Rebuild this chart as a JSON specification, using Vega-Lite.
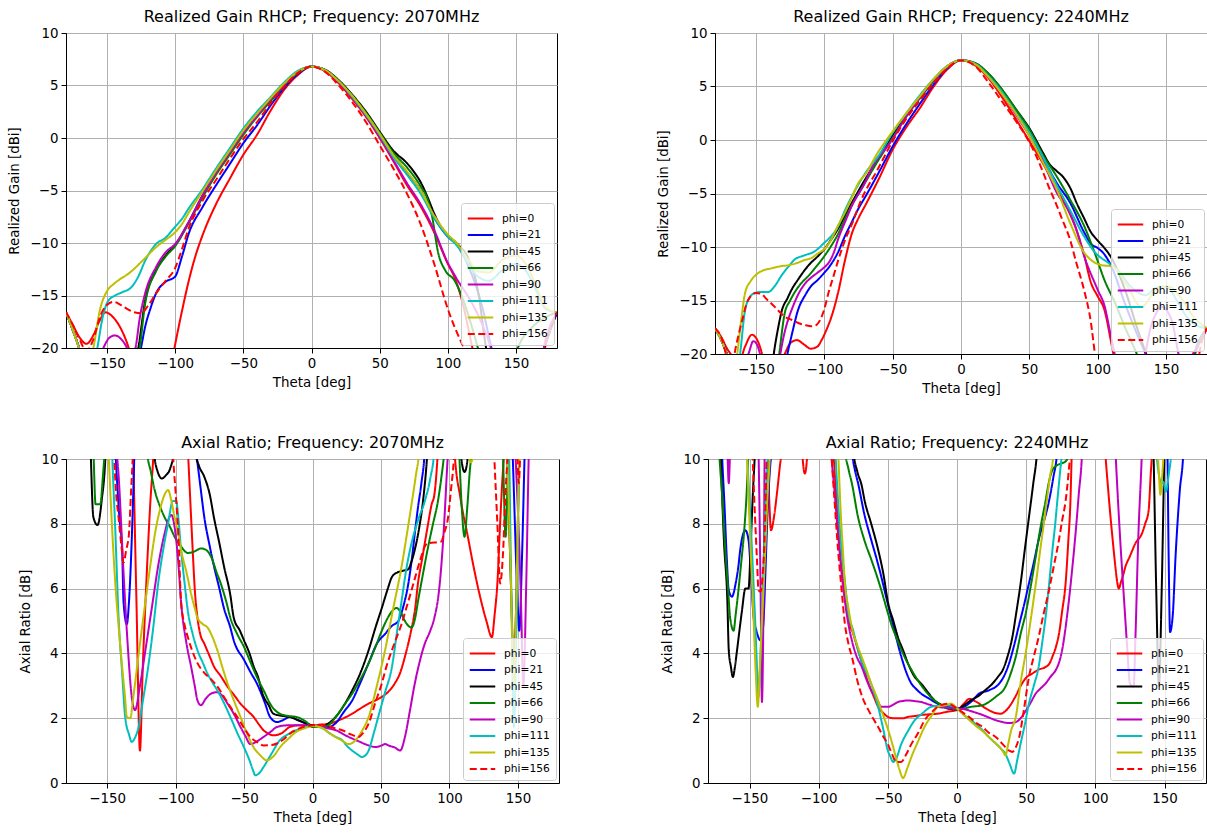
{
"$schema": "https://vega.github.io/schema/vega-lite/v6.json",
"padding": {"left": 7, "top": 8, "right": 0, "bottom": 0},
"columns": 1,
"align": "none",
"spacing": 38,
"datasets": {
"tl": [
{"p":0,"t":-180,"v":-16.6},{"p":0,"t":-175,"v":-17.8},{"p":0,"t":-170,"v":-19},{"p":0,"t":-165,"v":-19.6},{"p":0,"t":-160,"v":-18.8},{"p":0,"t":-155,"v":-17.3},{"p":0,"t":-151,"v":-16.6},{"p":0,"t":-146,"v":-17},{"p":0,"t":-140,"v":-18.1},{"p":0,"t":-134,"v":-20},{"p":0,"t":-128,"v":-23},{"p":0,"t":-115,"v":-26},{"p":0,"t":-105,"v":-23},{"p":0,"t":-100.5,"v":-20},{"p":0,"t":-95,"v":-16.5},{"p":0,"t":-90,"v":-13.6},{"p":0,"t":-85,"v":-11.2},{"p":0,"t":-80,"v":-9.3},{"p":0,"t":-70,"v":-6.3},{"p":0,"t":-60,"v":-3.9},{"p":0,"t":-50,"v":-1.6},{"p":0,"t":-40,"v":0.3},{"p":0,"t":-30,"v":2.6},{"p":0,"t":-20,"v":4.6},{"p":0,"t":-10,"v":6},{"p":0,"t":0,"v":6.8},{"p":0,"t":10,"v":6.35},{"p":0,"t":20,"v":5.2},{"p":0,"t":30,"v":3.7},{"p":0,"t":40,"v":2},{"p":0,"t":50,"v":0},{"p":0,"t":60,"v":-2.2},{"p":0,"t":70,"v":-4.5},{"p":0,"t":80,"v":-6.5},{"p":0,"t":90,"v":-9},{"p":0,"t":100,"v":-12},{"p":0,"t":105,"v":-13.3},{"p":0,"t":110,"v":-15.3},{"p":0,"t":118,"v":-20},{"p":0,"t":125,"v":-24},{"p":0,"t":160,"v":-24},{"p":0,"t":170,"v":-20.5},{"p":0,"t":175,"v":-18.2},{"p":0,"t":180,"v":-16.6},
{"p":21,"t":-180,"v":-16.6},{"p":21,"t":-175,"v":-18.3},{"p":21,"t":-170,"v":-20.2},{"p":21,"t":-165,"v":-23},{"p":21,"t":-140,"v":-25},{"p":21,"t":-128,"v":-22},{"p":21,"t":-125,"v":-20},{"p":21,"t":-122,"v":-18},{"p":21,"t":-118,"v":-16.2},{"p":21,"t":-114,"v":-14.8},{"p":21,"t":-107,"v":-13.7},{"p":21,"t":-100,"v":-13.2},{"p":21,"t":-95,"v":-11.3},{"p":21,"t":-90,"v":-9.1},{"p":21,"t":-80,"v":-6.6},{"p":21,"t":-70,"v":-4.5},{"p":21,"t":-60,"v":-2.5},{"p":21,"t":-50,"v":-0.5},{"p":21,"t":-40,"v":1.2},{"p":21,"t":-30,"v":3.1},{"p":21,"t":-20,"v":4.8},{"p":21,"t":-10,"v":6.1},{"p":21,"t":0,"v":6.8},{"p":21,"t":10,"v":6.45},{"p":21,"t":20,"v":5.4},{"p":21,"t":30,"v":4},{"p":21,"t":40,"v":2.3},{"p":21,"t":50,"v":0.4},{"p":21,"t":60,"v":-1.6},{"p":21,"t":70,"v":-3.3},{"p":21,"t":80,"v":-5},{"p":21,"t":90,"v":-7.6},{"p":21,"t":100,"v":-9.4},{"p":21,"t":107,"v":-10.2},{"p":21,"t":115,"v":-12.2},{"p":21,"t":125,"v":-16},{"p":21,"t":133,"v":-20.5},{"p":21,"t":145,"v":-24},{"p":21,"t":160,"v":-24},{"p":21,"t":168,"v":-21},{"p":21,"t":175,"v":-18.3},{"p":21,"t":180,"v":-16.6},
{"p":45,"t":-180,"v":-16.6},{"p":45,"t":-175,"v":-18.3},{"p":45,"t":-170,"v":-20.2},{"p":45,"t":-165,"v":-23},{"p":45,"t":-140,"v":-25},{"p":45,"t":-131,"v":-22},{"p":45,"t":-127,"v":-20},{"p":45,"t":-122,"v":-15.5},{"p":45,"t":-114,"v":-12.6},{"p":45,"t":-107,"v":-11.2},{"p":45,"t":-100,"v":-10.2},{"p":45,"t":-90,"v":-8},{"p":45,"t":-80,"v":-5.5},{"p":45,"t":-70,"v":-3.3},{"p":45,"t":-60,"v":-1.4},{"p":45,"t":-50,"v":0.5},{"p":45,"t":-40,"v":2.1},{"p":45,"t":-30,"v":3.6},{"p":45,"t":-20,"v":5.1},{"p":45,"t":-10,"v":6.3},{"p":45,"t":0,"v":6.8},{"p":45,"t":10,"v":6.5},{"p":45,"t":20,"v":5.5},{"p":45,"t":30,"v":4.1},{"p":45,"t":40,"v":2.5},{"p":45,"t":50,"v":0.6},{"p":45,"t":60,"v":-1.2},{"p":45,"t":70,"v":-2.4},{"p":45,"t":75,"v":-3.2},{"p":45,"t":80,"v":-4.2},{"p":45,"t":85,"v":-5.6},{"p":45,"t":90,"v":-7.2},{"p":45,"t":95,"v":-8.5},{"p":45,"t":100,"v":-9.3},{"p":45,"t":107,"v":-10.1},{"p":45,"t":115,"v":-11.5},{"p":45,"t":122,"v":-14.5},{"p":45,"t":128,"v":-20},{"p":45,"t":135,"v":-24},{"p":45,"t":160,"v":-24},{"p":45,"t":168,"v":-21},{"p":45,"t":175,"v":-18.3},{"p":45,"t":180,"v":-16.6},
{"p":66,"t":-180,"v":-16.6},{"p":66,"t":-175,"v":-18.3},{"p":66,"t":-170,"v":-20.2},{"p":66,"t":-165,"v":-23},{"p":66,"t":-140,"v":-25},{"p":66,"t":-130,"v":-22},{"p":66,"t":-126,"v":-20},{"p":66,"t":-122,"v":-15.8},{"p":66,"t":-114,"v":-12.7},{"p":66,"t":-107,"v":-11.3},{"p":66,"t":-100,"v":-10.3},{"p":66,"t":-90,"v":-8.1},{"p":66,"t":-80,"v":-5.7},{"p":66,"t":-70,"v":-3.5},{"p":66,"t":-60,"v":-1.6},{"p":66,"t":-50,"v":0.3},{"p":66,"t":-40,"v":2},{"p":66,"t":-30,"v":3.5},{"p":66,"t":-20,"v":5},{"p":66,"t":-10,"v":6.2},{"p":66,"t":0,"v":6.8},{"p":66,"t":10,"v":6.45},{"p":66,"t":20,"v":5.4},{"p":66,"t":30,"v":4},{"p":66,"t":40,"v":2.4},{"p":66,"t":50,"v":0.5},{"p":66,"t":60,"v":-1.4},{"p":66,"t":70,"v":-2.8},{"p":66,"t":80,"v":-4.6},{"p":66,"t":85,"v":-5.8},{"p":66,"t":88,"v":-7.2},{"p":66,"t":93,"v":-11},{"p":66,"t":98,"v":-12.6},{"p":66,"t":105,"v":-13.6},{"p":66,"t":110,"v":-15},{"p":66,"t":122,"v":-20},{"p":66,"t":130,"v":-24},{"p":66,"t":145,"v":-23},{"p":66,"t":150,"v":-20.5},{"p":66,"t":162,"v":-18},{"p":66,"t":170,"v":-17.2},{"p":66,"t":180,"v":-16.6},
{"p":90,"t":-180,"v":-16.6},{"p":90,"t":-175,"v":-18.3},{"p":90,"t":-170,"v":-20.2},{"p":90,"t":-165,"v":-23},{"p":90,"t":-157,"v":-21.5},{"p":90,"t":-152.6,"v":-20},{"p":90,"t":-148,"v":-19},{"p":90,"t":-144,"v":-18.8},{"p":90,"t":-140,"v":-19.1},{"p":90,"t":-136,"v":-19.8},{"p":90,"t":-132,"v":-21},{"p":90,"t":-129,"v":-20},{"p":90,"t":-126,"v":-17.2},{"p":90,"t":-122,"v":-14.8},{"p":90,"t":-114,"v":-12.3},{"p":90,"t":-107,"v":-10.9},{"p":90,"t":-100,"v":-10.1},{"p":90,"t":-90,"v":-8},{"p":90,"t":-80,"v":-5.5},{"p":90,"t":-70,"v":-3.3},{"p":90,"t":-60,"v":-1.4},{"p":90,"t":-50,"v":0.5},{"p":90,"t":-40,"v":2.1},{"p":90,"t":-30,"v":3.7},{"p":90,"t":-20,"v":5.1},{"p":90,"t":-10,"v":6.3},{"p":90,"t":0,"v":6.8},{"p":90,"t":10,"v":6.4},{"p":90,"t":20,"v":5.3},{"p":90,"t":30,"v":3.8},{"p":90,"t":40,"v":2.1},{"p":90,"t":50,"v":0.1},{"p":90,"t":60,"v":-2.1},{"p":90,"t":70,"v":-4.3},{"p":90,"t":80,"v":-6.3},{"p":90,"t":90,"v":-8.8},{"p":90,"t":100,"v":-11.9},{"p":90,"t":106,"v":-13.3},{"p":90,"t":118,"v":-15.8},{"p":90,"t":126,"v":-18},{"p":90,"t":133,"v":-20.5},{"p":90,"t":140,"v":-23},{"p":90,"t":165,"v":-23},{"p":90,"t":172,"v":-19},{"p":90,"t":180,"v":-16.6},
{"p":111,"t":-180,"v":-16.6},{"p":111,"t":-175,"v":-18.3},{"p":111,"t":-170,"v":-20.2},{"p":111,"t":-165,"v":-23},{"p":111,"t":-160,"v":-22},{"p":111,"t":-157,"v":-20},{"p":111,"t":-153,"v":-17},{"p":111,"t":-149,"v":-15.5},{"p":111,"t":-144,"v":-15},{"p":111,"t":-139,"v":-14.7},{"p":111,"t":-132,"v":-14.2},{"p":111,"t":-127,"v":-13.2},{"p":111,"t":-122,"v":-11.7},{"p":111,"t":-114,"v":-10.1},{"p":111,"t":-107,"v":-9.5},{"p":111,"t":-101,"v":-8.6},{"p":111,"t":-95,"v":-7.7},{"p":111,"t":-90,"v":-6.7},{"p":111,"t":-80,"v":-4.9},{"p":111,"t":-70,"v":-2.9},{"p":111,"t":-60,"v":-1},{"p":111,"t":-50,"v":0.9},{"p":111,"t":-40,"v":2.5},{"p":111,"t":-30,"v":3.9},{"p":111,"t":-20,"v":5.3},{"p":111,"t":-10,"v":6.4},{"p":111,"t":0,"v":6.8},{"p":111,"t":10,"v":6.45},{"p":111,"t":20,"v":5.4},{"p":111,"t":30,"v":3.9},{"p":111,"t":40,"v":2.2},{"p":111,"t":50,"v":0.3},{"p":111,"t":60,"v":-1.8},{"p":111,"t":70,"v":-3.5},{"p":111,"t":80,"v":-5.3},{"p":111,"t":90,"v":-7.6},{"p":111,"t":100,"v":-9.4},{"p":111,"t":107,"v":-10.3},{"p":111,"t":115,"v":-12},{"p":111,"t":122,"v":-13.2},{"p":111,"t":130,"v":-13.6},{"p":111,"t":140,"v":-12.6},{"p":111,"t":150,"v":-12},{"p":111,"t":158,"v":-12.8},{"p":111,"t":165,"v":-14.6},{"p":111,"t":172,"v":-16.3},{"p":111,"t":180,"v":-16.6},
{"p":135,"t":-180,"v":-16.6},{"p":135,"t":-175,"v":-18.3},{"p":135,"t":-170,"v":-20.2},{"p":135,"t":-165,"v":-22},{"p":135,"t":-160,"v":-20},{"p":135,"t":-155,"v":-16.3},{"p":135,"t":-150,"v":-14.6},{"p":135,"t":-145,"v":-13.9},{"p":135,"t":-141,"v":-13.5},{"p":135,"t":-134,"v":-12.9},{"p":135,"t":-124,"v":-11.7},{"p":135,"t":-114,"v":-10.4},{"p":135,"t":-107,"v":-9.7},{"p":135,"t":-101,"v":-9.1},{"p":135,"t":-95,"v":-8.2},{"p":135,"t":-90,"v":-7.1},{"p":135,"t":-80,"v":-5.1},{"p":135,"t":-70,"v":-3.1},{"p":135,"t":-60,"v":-1.2},{"p":135,"t":-50,"v":0.7},{"p":135,"t":-40,"v":2.3},{"p":135,"t":-30,"v":3.8},{"p":135,"t":-20,"v":5.2},{"p":135,"t":-10,"v":6.3},{"p":135,"t":0,"v":6.8},{"p":135,"t":10,"v":6.45},{"p":135,"t":20,"v":5.4},{"p":135,"t":30,"v":4},{"p":135,"t":40,"v":2.3},{"p":135,"t":50,"v":0.4},{"p":135,"t":60,"v":-1.6},{"p":135,"t":70,"v":-3.2},{"p":135,"t":80,"v":-5},{"p":135,"t":90,"v":-7.4},{"p":135,"t":100,"v":-9.2},{"p":135,"t":107,"v":-10.1},{"p":135,"t":115,"v":-11.6},{"p":135,"t":122,"v":-12.7},{"p":135,"t":130,"v":-12.8},{"p":135,"t":140,"v":-11.6},{"p":135,"t":150,"v":-11.2},{"p":135,"t":158,"v":-12.2},{"p":135,"t":165,"v":-14.2},{"p":135,"t":172,"v":-16.2},{"p":135,"t":180,"v":-16.6},
{"p":156,"t":-180,"v":-16.6},{"p":156,"t":-175,"v":-17.8},{"p":156,"t":-170,"v":-19.2},{"p":156,"t":-165,"v":-20.3},{"p":156,"t":-160,"v":-19.2},{"p":156,"t":-155,"v":-17},{"p":156,"t":-150,"v":-15.9},{"p":156,"t":-145,"v":-15.6},{"p":156,"t":-140,"v":-15.9},{"p":156,"t":-130,"v":-16.6},{"p":156,"t":-125,"v":-16.7},{"p":156,"t":-120,"v":-16},{"p":156,"t":-114,"v":-14.8},{"p":156,"t":-107,"v":-13.6},{"p":156,"t":-100,"v":-12.4},{"p":156,"t":-95,"v":-10.6},{"p":156,"t":-90,"v":-8.6},{"p":156,"t":-80,"v":-6},{"p":156,"t":-70,"v":-4},{"p":156,"t":-60,"v":-2},{"p":156,"t":-50,"v":-0.1},{"p":156,"t":-40,"v":1.5},{"p":156,"t":-30,"v":3.3},{"p":156,"t":-20,"v":4.9},{"p":156,"t":-10,"v":6.2},{"p":156,"t":0,"v":6.8},{"p":156,"t":10,"v":6.3},{"p":156,"t":20,"v":5},{"p":156,"t":30,"v":3.4},{"p":156,"t":40,"v":1.5},{"p":156,"t":50,"v":-0.7},{"p":156,"t":60,"v":-2.9},{"p":156,"t":70,"v":-5.3},{"p":156,"t":80,"v":-8.2},{"p":156,"t":90,"v":-12},{"p":156,"t":100,"v":-16.3},{"p":156,"t":110,"v":-19.5},{"p":156,"t":116,"v":-21},{"p":156,"t":125,"v":-24},{"p":156,"t":165,"v":-24},{"p":156,"t":172,"v":-19.5},{"p":156,"t":180,"v":-16.6}
],
"tr": [
{"p":0,"t":-180,"v":-17.6},{"p":0,"t":-175,"v":-18.5},{"p":0,"t":-172,"v":-19.3},{"p":0,"t":-168,"v":-20.1},{"p":0,"t":-163,"v":-21},{"p":0,"t":-158,"v":-19.3},{"p":0,"t":-153,"v":-18.2},{"p":0,"t":-148,"v":-19},{"p":0,"t":-145,"v":-20.2},{"p":0,"t":-140,"v":-22},{"p":0,"t":-133,"v":-21},{"p":0,"t":-129,"v":-20},{"p":0,"t":-125,"v":-19},{"p":0,"t":-120,"v":-18.7},{"p":0,"t":-115,"v":-19.1},{"p":0,"t":-110,"v":-19.5},{"p":0,"t":-105,"v":-19.3},{"p":0,"t":-102,"v":-18.7},{"p":0,"t":-98,"v":-17.6},{"p":0,"t":-95,"v":-16.6},{"p":0,"t":-90,"v":-14.3},{"p":0,"t":-85,"v":-11.3},{"p":0,"t":-80,"v":-8.8},{"p":0,"t":-75,"v":-7.3},{"p":0,"t":-70,"v":-6.1},{"p":0,"t":-60,"v":-3.6},{"p":0,"t":-50,"v":-0.9},{"p":0,"t":-40,"v":1.2},{"p":0,"t":-30,"v":3},{"p":0,"t":-20,"v":5},{"p":0,"t":-10,"v":6.6},{"p":0,"t":0,"v":7.45},{"p":0,"t":10,"v":7},{"p":0,"t":20,"v":5.8},{"p":0,"t":30,"v":4},{"p":0,"t":40,"v":2},{"p":0,"t":50,"v":-0.1},{"p":0,"t":60,"v":-2.2},{"p":0,"t":70,"v":-4.6},{"p":0,"t":80,"v":-7},{"p":0,"t":85,"v":-8.6},{"p":0,"t":90,"v":-10.7},{"p":0,"t":95,"v":-13.3},{"p":0,"t":100,"v":-14.6},{"p":0,"t":105,"v":-15.9},{"p":0,"t":110,"v":-19},{"p":0,"t":113,"v":-21},{"p":0,"t":120,"v":-24},{"p":0,"t":165,"v":-23},{"p":0,"t":170,"v":-20.5},{"p":0,"t":175,"v":-18.8},{"p":0,"t":180,"v":-17.6},
{"p":21,"t":-180,"v":-17.6},{"p":21,"t":-175,"v":-18.8},{"p":21,"t":-170,"v":-20.5},{"p":21,"t":-165,"v":-23},{"p":21,"t":-140,"v":-25},{"p":21,"t":-130,"v":-22},{"p":21,"t":-127,"v":-20},{"p":21,"t":-124,"v":-18.3},{"p":21,"t":-119,"v":-15.8},{"p":21,"t":-114,"v":-14.5},{"p":21,"t":-110,"v":-13.7},{"p":21,"t":-105,"v":-13.1},{"p":21,"t":-100,"v":-12.4},{"p":21,"t":-95,"v":-11.6},{"p":21,"t":-90,"v":-10.5},{"p":21,"t":-85,"v":-9},{"p":21,"t":-80,"v":-7.7},{"p":21,"t":-75,"v":-6.4},{"p":21,"t":-70,"v":-5.3},{"p":21,"t":-60,"v":-3},{"p":21,"t":-50,"v":-0.6},{"p":21,"t":-40,"v":1.5},{"p":21,"t":-30,"v":3.4},{"p":21,"t":-20,"v":5.2},{"p":21,"t":-10,"v":6.7},{"p":21,"t":0,"v":7.45},{"p":21,"t":10,"v":7.15},{"p":21,"t":20,"v":6},{"p":21,"t":30,"v":4.5},{"p":21,"t":40,"v":2.6},{"p":21,"t":50,"v":0.6},{"p":21,"t":60,"v":-1.7},{"p":21,"t":70,"v":-4},{"p":21,"t":80,"v":-5.9},{"p":21,"t":90,"v":-8.6},{"p":21,"t":95,"v":-9.7},{"p":21,"t":100,"v":-10.1},{"p":21,"t":105,"v":-10.7},{"p":21,"t":110,"v":-11.8},{"p":21,"t":120,"v":-15.3},{"p":21,"t":130,"v":-18.5},{"p":21,"t":137,"v":-20.5},{"p":21,"t":145,"v":-23},{"p":21,"t":165,"v":-23},{"p":21,"t":172,"v":-19.5},{"p":21,"t":180,"v":-17.6},
{"p":45,"t":-180,"v":-17.6},{"p":45,"t":-175,"v":-18.8},{"p":45,"t":-170,"v":-20.5},{"p":45,"t":-165,"v":-23},{"p":45,"t":-145,"v":-25},{"p":45,"t":-139,"v":-22},{"p":45,"t":-137,"v":-20},{"p":45,"t":-134,"v":-17.7},{"p":45,"t":-131,"v":-15.9},{"p":45,"t":-127,"v":-14.8},{"p":45,"t":-124,"v":-14},{"p":45,"t":-119,"v":-13},{"p":45,"t":-114,"v":-12.1},{"p":45,"t":-110,"v":-11.5},{"p":45,"t":-105,"v":-10.9},{"p":45,"t":-100,"v":-10.2},{"p":45,"t":-95,"v":-9.3},{"p":45,"t":-90,"v":-8.3},{"p":45,"t":-85,"v":-7.1},{"p":45,"t":-80,"v":-5.9},{"p":45,"t":-73,"v":-4.3},{"p":45,"t":-61,"v":-1.8},{"p":45,"t":-50,"v":0.4},{"p":45,"t":-40,"v":2.3},{"p":45,"t":-30,"v":4},{"p":45,"t":-20,"v":5.6},{"p":45,"t":-10,"v":6.9},{"p":45,"t":0,"v":7.45},{"p":45,"t":10,"v":7.2},{"p":45,"t":20,"v":6.2},{"p":45,"t":30,"v":4.7},{"p":45,"t":40,"v":2.9},{"p":45,"t":50,"v":1.1},{"p":45,"t":60,"v":-1.2},{"p":45,"t":65,"v":-2.3},{"p":45,"t":70,"v":-2.9},{"p":45,"t":75,"v":-3.5},{"p":45,"t":80,"v":-4.5},{"p":45,"t":85,"v":-6},{"p":45,"t":90,"v":-7.3},{"p":45,"t":95,"v":-8.6},{"p":45,"t":100,"v":-9.4},{"p":45,"t":105,"v":-10.1},{"p":45,"t":110,"v":-11},{"p":45,"t":120,"v":-14},{"p":45,"t":130,"v":-18},{"p":45,"t":137,"v":-20.5},{"p":45,"t":150,"v":-24},{"p":45,"t":165,"v":-23},{"p":45,"t":172,"v":-19.5},{"p":45,"t":180,"v":-17.6},
{"p":66,"t":-180,"v":-17.6},{"p":66,"t":-175,"v":-18.8},{"p":66,"t":-170,"v":-20.5},{"p":66,"t":-165,"v":-23},{"p":66,"t":-145,"v":-25},{"p":66,"t":-135,"v":-22},{"p":66,"t":-133,"v":-20},{"p":66,"t":-129,"v":-16.2},{"p":66,"t":-125,"v":-15},{"p":66,"t":-122,"v":-14.3},{"p":66,"t":-117,"v":-13.4},{"p":66,"t":-112,"v":-12.75},{"p":66,"t":-107,"v":-12},{"p":66,"t":-102,"v":-11.2},{"p":66,"t":-95,"v":-9.9},{"p":66,"t":-90,"v":-8.8},{"p":66,"t":-85,"v":-7.4},{"p":66,"t":-80,"v":-6.1},{"p":66,"t":-73,"v":-4.6},{"p":66,"t":-61,"v":-2},{"p":66,"t":-50,"v":0.2},{"p":66,"t":-40,"v":2.2},{"p":66,"t":-30,"v":3.9},{"p":66,"t":-20,"v":5.5},{"p":66,"t":-10,"v":6.8},{"p":66,"t":0,"v":7.45},{"p":66,"t":10,"v":7.2},{"p":66,"t":20,"v":6.2},{"p":66,"t":30,"v":4.7},{"p":66,"t":40,"v":2.9},{"p":66,"t":50,"v":1},{"p":66,"t":60,"v":-1.4},{"p":66,"t":70,"v":-3.4},{"p":66,"t":80,"v":-5.6},{"p":66,"t":90,"v":-8},{"p":66,"t":98,"v":-10.6},{"p":66,"t":105,"v":-13.1},{"p":66,"t":113,"v":-15.3},{"p":66,"t":120,"v":-17.5},{"p":66,"t":127,"v":-19.5},{"p":66,"t":132,"v":-21},{"p":66,"t":145,"v":-23},{"p":66,"t":165,"v":-23},{"p":66,"t":172,"v":-19.5},{"p":66,"t":180,"v":-17.6},
{"p":90,"t":-180,"v":-17.6},{"p":90,"t":-175,"v":-18.8},{"p":90,"t":-170,"v":-20.5},{"p":90,"t":-165,"v":-23},{"p":90,"t":-158,"v":-21},{"p":90,"t":-155,"v":-19.8},{"p":90,"t":-152,"v":-18.8},{"p":90,"t":-149,"v":-19.2},{"p":90,"t":-146,"v":-20.5},{"p":90,"t":-143,"v":-22},{"p":90,"t":-136,"v":-22},{"p":90,"t":-133,"v":-20.5},{"p":90,"t":-130,"v":-18.5},{"p":90,"t":-127,"v":-17},{"p":90,"t":-124,"v":-15.9},{"p":90,"t":-119,"v":-14.4},{"p":90,"t":-114,"v":-13.4},{"p":90,"t":-110,"v":-12.9},{"p":90,"t":-105,"v":-12.4},{"p":90,"t":-100,"v":-11.9},{"p":90,"t":-97,"v":-11.5},{"p":90,"t":-93,"v":-10.5},{"p":90,"t":-90,"v":-9.3},{"p":90,"t":-85,"v":-7.7},{"p":90,"t":-80,"v":-6.2},{"p":90,"t":-70,"v":-3.9},{"p":90,"t":-66,"v":-2.8},{"p":90,"t":-50,"v":0.1},{"p":90,"t":-40,"v":2.2},{"p":90,"t":-30,"v":4},{"p":90,"t":-20,"v":5.6},{"p":90,"t":-10,"v":6.8},{"p":90,"t":0,"v":7.45},{"p":90,"t":10,"v":7.1},{"p":90,"t":20,"v":5.9},{"p":90,"t":30,"v":4.3},{"p":90,"t":40,"v":2.4},{"p":90,"t":50,"v":0.4},{"p":90,"t":60,"v":-2},{"p":90,"t":70,"v":-4.9},{"p":90,"t":80,"v":-6.9},{"p":90,"t":84,"v":-8.2},{"p":90,"t":90,"v":-10.8},{"p":90,"t":100,"v":-14},{"p":90,"t":105,"v":-15.5},{"p":90,"t":110,"v":-18.5},{"p":90,"t":115,"v":-21},{"p":90,"t":130,"v":-22},{"p":90,"t":140,"v":-17},{"p":90,"t":147,"v":-15.6},{"p":90,"t":154,"v":-16.8},{"p":90,"t":162,"v":-21},{"p":90,"t":172,"v":-19.5},{"p":90,"t":180,"v":-17.6},
{"p":111,"t":-180,"v":-17.6},{"p":111,"t":-175,"v":-18.8},{"p":111,"t":-170,"v":-20.5},{"p":111,"t":-165,"v":-22},{"p":111,"t":-162,"v":-20.3},{"p":111,"t":-158,"v":-15.9},{"p":111,"t":-155,"v":-14.8},{"p":111,"t":-151,"v":-14.3},{"p":111,"t":-146,"v":-14.2},{"p":111,"t":-141,"v":-14.2},{"p":111,"t":-136,"v":-13.6},{"p":111,"t":-131,"v":-12.6},{"p":111,"t":-126,"v":-11.8},{"p":111,"t":-122,"v":-11.2},{"p":111,"t":-115,"v":-10.8},{"p":111,"t":-107,"v":-10.4},{"p":111,"t":-100,"v":-9.6},{"p":111,"t":-95,"v":-9},{"p":111,"t":-90,"v":-8.1},{"p":111,"t":-85,"v":-6.6},{"p":111,"t":-80,"v":-5.3},{"p":111,"t":-70,"v":-3.1},{"p":111,"t":-60,"v":-1.4},{"p":111,"t":-50,"v":0.7},{"p":111,"t":-40,"v":2.5},{"p":111,"t":-30,"v":4.2},{"p":111,"t":-20,"v":5.7},{"p":111,"t":-10,"v":6.9},{"p":111,"t":0,"v":7.45},{"p":111,"t":10,"v":7.15},{"p":111,"t":20,"v":6},{"p":111,"t":30,"v":4.5},{"p":111,"t":40,"v":2.6},{"p":111,"t":50,"v":0.7},{"p":111,"t":60,"v":-1.6},{"p":111,"t":70,"v":-4.2},{"p":111,"t":80,"v":-6.6},{"p":111,"t":90,"v":-9},{"p":111,"t":98,"v":-10.5},{"p":111,"t":108,"v":-11.5},{"p":111,"t":115,"v":-12.2},{"p":111,"t":125,"v":-13.8},{"p":111,"t":135,"v":-14.5},{"p":111,"t":143,"v":-13.8},{"p":111,"t":150,"v":-13.7},{"p":111,"t":158,"v":-15},{"p":111,"t":165,"v":-16.5},{"p":111,"t":172,"v":-17.3},{"p":111,"t":180,"v":-17.6},
{"p":135,"t":-180,"v":-17.6},{"p":135,"t":-175,"v":-18.8},{"p":135,"t":-170,"v":-20.5},{"p":135,"t":-166,"v":-21.5},{"p":135,"t":-164,"v":-20.2},{"p":135,"t":-161,"v":-17},{"p":135,"t":-158,"v":-14.3},{"p":135,"t":-154,"v":-13.2},{"p":135,"t":-150,"v":-12.6},{"p":135,"t":-145,"v":-12.2},{"p":135,"t":-139,"v":-12},{"p":135,"t":-132,"v":-11.8},{"p":135,"t":-126,"v":-11.7},{"p":135,"t":-120,"v":-11.5},{"p":135,"t":-114,"v":-11.2},{"p":135,"t":-109,"v":-11},{"p":135,"t":-104.6,"v":-10.6},{"p":135,"t":-100,"v":-10.2},{"p":135,"t":-95,"v":-9.3},{"p":135,"t":-90,"v":-8},{"p":135,"t":-85,"v":-6.8},{"p":135,"t":-80,"v":-5.4},{"p":135,"t":-75,"v":-4},{"p":135,"t":-70,"v":-3.2},{"p":135,"t":-61,"v":-1.2},{"p":135,"t":-50,"v":0.8},{"p":135,"t":-40,"v":2.5},{"p":135,"t":-30,"v":4.1},{"p":135,"t":-20,"v":5.7},{"p":135,"t":-10,"v":6.9},{"p":135,"t":0,"v":7.45},{"p":135,"t":10,"v":7.1},{"p":135,"t":20,"v":5.9},{"p":135,"t":30,"v":4.3},{"p":135,"t":40,"v":2.5},{"p":135,"t":50,"v":0.4},{"p":135,"t":60,"v":-2.1},{"p":135,"t":70,"v":-4.6},{"p":135,"t":80,"v":-7.8},{"p":135,"t":90,"v":-10.5},{"p":135,"t":95,"v":-11.2},{"p":135,"t":103,"v":-11.7},{"p":135,"t":110,"v":-11.8},{"p":135,"t":116,"v":-12.5},{"p":135,"t":122,"v":-13.7},{"p":135,"t":132,"v":-15.6},{"p":135,"t":137,"v":-15},{"p":135,"t":142,"v":-14},{"p":135,"t":152,"v":-13.7},{"p":135,"t":160,"v":-14.6},{"p":135,"t":170,"v":-16.5},{"p":135,"t":180,"v":-17.6},
{"p":156,"t":-180,"v":-17.6},{"p":156,"t":-175,"v":-18.6},{"p":156,"t":-172,"v":-20},{"p":156,"t":-168,"v":-21.5},{"p":156,"t":-165,"v":-19.5},{"p":156,"t":-160,"v":-16.8},{"p":156,"t":-156,"v":-15},{"p":156,"t":-150,"v":-14.3},{"p":156,"t":-146,"v":-14.4},{"p":156,"t":-142,"v":-14.9},{"p":156,"t":-139,"v":-15.25},{"p":156,"t":-134,"v":-15.9},{"p":156,"t":-129,"v":-16.5},{"p":156,"t":-124,"v":-16.8},{"p":156,"t":-119,"v":-17.1},{"p":156,"t":-114,"v":-17.3},{"p":156,"t":-109.5,"v":-17.4},{"p":156,"t":-106,"v":-17.3},{"p":156,"t":-103,"v":-16.8},{"p":156,"t":-100,"v":-15.8},{"p":156,"t":-97,"v":-14.3},{"p":156,"t":-93,"v":-12.6},{"p":156,"t":-90,"v":-11.3},{"p":156,"t":-85,"v":-9.4},{"p":156,"t":-80,"v":-7.9},{"p":156,"t":-73,"v":-5.6},{"p":156,"t":-61,"v":-2.75},{"p":156,"t":-50,"v":-0.1},{"p":156,"t":-40,"v":2},{"p":156,"t":-30,"v":3.7},{"p":156,"t":-20,"v":5.3},{"p":156,"t":-10,"v":6.7},{"p":156,"t":0,"v":7.45},{"p":156,"t":10,"v":6.95},{"p":156,"t":20,"v":5.4},{"p":156,"t":30,"v":3.6},{"p":156,"t":40,"v":1.8},{"p":156,"t":50,"v":-0.2},{"p":156,"t":54,"v":-1.2},{"p":156,"t":60,"v":-3},{"p":156,"t":64,"v":-4.3},{"p":156,"t":70,"v":-6.1},{"p":156,"t":74,"v":-7.4},{"p":156,"t":80,"v":-9.4},{"p":156,"t":84,"v":-11.3},{"p":156,"t":90,"v":-14},{"p":156,"t":95,"v":-17},{"p":156,"t":98,"v":-20},{"p":156,"t":103,"v":-24},{"p":156,"t":170,"v":-24},{"p":156,"t":175,"v":-19.5},{"p":156,"t":180,"v":-17.6}
],
"bl": [
{"p":0,"t":-180,"v":25},{"p":0,"t":-135,"v":18},{"p":0,"t":-133,"v":14},{"p":0,"t":-131,"v":10.3},{"p":0,"t":-128.5,"v":5.5},{"p":0,"t":-126,"v":1},{"p":0,"t":-124,"v":3.5},{"p":0,"t":-121,"v":6.5},{"p":0,"t":-118.5,"v":8.6},{"p":0,"t":-116,"v":10.3},{"p":0,"t":-113,"v":14},{"p":0,"t":-95,"v":14},{"p":0,"t":-91,"v":10.3},{"p":0,"t":-89,"v":8.5},{"p":0,"t":-87.5,"v":7.2},{"p":0,"t":-86,"v":6},{"p":0,"t":-84,"v":5.1},{"p":0,"t":-82,"v":4.6},{"p":0,"t":-79,"v":4.3},{"p":0,"t":-75,"v":3.9},{"p":0,"t":-72,"v":3.6},{"p":0,"t":-67,"v":3.3},{"p":0,"t":-62,"v":2.97},{"p":0,"t":-57,"v":2.7},{"p":0,"t":-52.6,"v":2.45},{"p":0,"t":-48,"v":2.25},{"p":0,"t":-43,"v":2.04},{"p":0,"t":-39,"v":1.8},{"p":0,"t":-35.8,"v":1.63},{"p":0,"t":-32,"v":1.52},{"p":0,"t":-28.6,"v":1.47},{"p":0,"t":-22,"v":1.55},{"p":0,"t":-16.6,"v":1.73},{"p":0,"t":-10,"v":1.78},{"p":0,"t":0,"v":1.78},{"p":0,"t":6,"v":1.8},{"p":0,"t":12,"v":1.83},{"p":0,"t":20,"v":1.95},{"p":0,"t":29,"v":2.14},{"p":0,"t":35,"v":2.3},{"p":0,"t":41,"v":2.45},{"p":0,"t":46,"v":2.55},{"p":0,"t":50.6,"v":2.66},{"p":0,"t":55,"v":2.8},{"p":0,"t":60,"v":3.07},{"p":0,"t":64,"v":3.4},{"p":0,"t":67.5,"v":3.9},{"p":0,"t":72,"v":4.7},{"p":0,"t":75,"v":5.4},{"p":0,"t":77,"v":6.16},{"p":0,"t":80,"v":6.9},{"p":0,"t":84,"v":7.9},{"p":0,"t":87,"v":8.6},{"p":0,"t":89,"v":8.9},{"p":0,"t":91.6,"v":10.3},{"p":0,"t":95,"v":14},{"p":0,"t":100,"v":14},{"p":0,"t":103.6,"v":10.3},{"p":0,"t":108,"v":8.8},{"p":0,"t":113,"v":7.7},{"p":0,"t":118,"v":6.6},{"p":0,"t":123,"v":5.64},{"p":0,"t":127,"v":5},{"p":0,"t":131,"v":4.5},{"p":0,"t":133,"v":5.2},{"p":0,"t":135,"v":6.16},{"p":0,"t":137,"v":8},{"p":0,"t":138.5,"v":9.25},{"p":0,"t":140,"v":10.3},{"p":0,"t":143,"v":14},{"p":0,"t":180,"v":25},
{"p":21,"t":-180,"v":25},{"p":21,"t":-148,"v":14},{"p":21,"t":-144,"v":10.3},{"p":21,"t":-141,"v":8.2},{"p":21,"t":-139,"v":7.2},{"p":21,"t":-138,"v":5.6},{"p":21,"t":-135.6,"v":4.9},{"p":21,"t":-134,"v":5.6},{"p":21,"t":-132,"v":7.5},{"p":21,"t":-130,"v":10.3},{"p":21,"t":-127,"v":16},{"p":21,"t":-95,"v":16},{"p":21,"t":-88,"v":11},{"p":21,"t":-85,"v":10.2},{"p":21,"t":-82,"v":9.2},{"p":21,"t":-79,"v":8.2},{"p":21,"t":-75,"v":7.3},{"p":21,"t":-72,"v":6.7},{"p":21,"t":-68,"v":6},{"p":21,"t":-64.7,"v":5.4},{"p":21,"t":-60,"v":4.8},{"p":21,"t":-57.5,"v":4.4},{"p":21,"t":-50,"v":3.8},{"p":21,"t":-45,"v":3.4},{"p":21,"t":-40.6,"v":3.07},{"p":21,"t":-35,"v":2.5},{"p":21,"t":-31,"v":2.04},{"p":21,"t":-26,"v":1.88},{"p":21,"t":-22,"v":1.93},{"p":21,"t":-16.6,"v":2.04},{"p":21,"t":-10,"v":1.93},{"p":21,"t":0,"v":1.76},{"p":21,"t":7,"v":1.73},{"p":21,"t":12,"v":1.73},{"p":21,"t":17,"v":1.85},{"p":21,"t":23,"v":2.2},{"p":21,"t":29,"v":2.55},{"p":21,"t":35,"v":3.1},{"p":21,"t":41,"v":3.7},{"p":21,"t":47,"v":4.3},{"p":21,"t":53,"v":4.6},{"p":21,"t":58,"v":4.85},{"p":21,"t":62.7,"v":5},{"p":21,"t":66,"v":5.4},{"p":21,"t":70,"v":6.16},{"p":21,"t":72.5,"v":6.9},{"p":21,"t":74.7,"v":7.7},{"p":21,"t":77,"v":8.5},{"p":21,"t":79.5,"v":9.25},{"p":21,"t":82,"v":10.3},{"p":21,"t":85,"v":14},{"p":21,"t":140,"v":14},{"p":21,"t":146,"v":10.3},{"p":21,"t":149,"v":6.5},{"p":21,"t":151,"v":4.7},{"p":21,"t":153,"v":7},{"p":21,"t":155,"v":10.3},{"p":21,"t":158,"v":14},{"p":21,"t":180,"v":25},
{"p":45,"t":-180,"v":25},{"p":45,"t":-165,"v":16},{"p":45,"t":-162,"v":10.3},{"p":45,"t":-160,"v":8.2},{"p":45,"t":-157,"v":7.96},{"p":45,"t":-154,"v":8.7},{"p":45,"t":-151,"v":10.3},{"p":45,"t":-148,"v":16},{"p":45,"t":-120,"v":14},{"p":45,"t":-116,"v":10.3},{"p":45,"t":-113,"v":9.6},{"p":45,"t":-110,"v":9.4},{"p":45,"t":-107,"v":9.5},{"p":45,"t":-104,"v":9.7},{"p":45,"t":-101,"v":10.3},{"p":45,"t":-97,"v":14},{"p":45,"t":-90,"v":13},{"p":45,"t":-86,"v":10.3},{"p":45,"t":-83,"v":9.8},{"p":45,"t":-79,"v":9.45},{"p":45,"t":-75,"v":8.9},{"p":45,"t":-72,"v":8.2},{"p":45,"t":-68,"v":7.4},{"p":45,"t":-64.7,"v":6.7},{"p":45,"t":-60,"v":5.8},{"p":45,"t":-57.5,"v":5.1},{"p":45,"t":-53,"v":4.7},{"p":45,"t":-50,"v":4.4},{"p":45,"t":-46,"v":4},{"p":45,"t":-43,"v":3.6},{"p":45,"t":-40,"v":3.3},{"p":45,"t":-36,"v":2.7},{"p":45,"t":-32,"v":2.4},{"p":45,"t":-28.6,"v":2.14},{"p":45,"t":-22,"v":2.07},{"p":45,"t":-16.6,"v":2.04},{"p":45,"t":-10,"v":1.93},{"p":45,"t":-5,"v":1.85},{"p":45,"t":0,"v":1.78},{"p":45,"t":7,"v":1.73},{"p":45,"t":12,"v":1.85},{"p":45,"t":17,"v":2.04},{"p":45,"t":23,"v":2.4},{"p":45,"t":29,"v":2.86},{"p":45,"t":35,"v":3.4},{"p":45,"t":41,"v":4.1},{"p":45,"t":46,"v":4.8},{"p":45,"t":50.6,"v":5.4},{"p":45,"t":55,"v":6},{"p":45,"t":58,"v":6.36},{"p":45,"t":62,"v":6.5},{"p":45,"t":66,"v":6.55},{"p":45,"t":70,"v":6.6},{"p":45,"t":72,"v":6.8},{"p":45,"t":74.7,"v":7.2},{"p":45,"t":78,"v":7.9},{"p":45,"t":80.7,"v":8.7},{"p":45,"t":84,"v":10.3},{"p":45,"t":87,"v":13},{"p":45,"t":100,"v":16},{"p":45,"t":106,"v":13},{"p":45,"t":108,"v":10.3},{"p":45,"t":111,"v":9.6},{"p":45,"t":114,"v":10.3},{"p":45,"t":118,"v":14},{"p":45,"t":135,"v":14},{"p":45,"t":142,"v":10.3},{"p":45,"t":145,"v":6},{"p":45,"t":147,"v":3.5},{"p":45,"t":149,"v":6},{"p":45,"t":151,"v":10.3},{"p":45,"t":155,"v":14},{"p":45,"t":180,"v":25},
{"p":66,"t":-180,"v":25},{"p":66,"t":-163,"v":14},{"p":66,"t":-160,"v":10.3},{"p":66,"t":-158.4,"v":8.6},{"p":66,"t":-155,"v":8.6},{"p":66,"t":-153,"v":9.5},{"p":66,"t":-151,"v":10.8},{"p":66,"t":-148,"v":15},{"p":66,"t":-125,"v":15},{"p":66,"t":-121,"v":10.3},{"p":66,"t":-118,"v":9.6},{"p":66,"t":-115,"v":9},{"p":66,"t":-111,"v":8.5},{"p":66,"t":-108,"v":8.2},{"p":66,"t":-104,"v":7.9},{"p":66,"t":-100.7,"v":7.6},{"p":66,"t":-96,"v":7.3},{"p":66,"t":-91,"v":7.1},{"p":66,"t":-86,"v":7.15},{"p":66,"t":-81.5,"v":7.24},{"p":66,"t":-78,"v":7.2},{"p":66,"t":-74,"v":6.98},{"p":66,"t":-70,"v":6.5},{"p":66,"t":-67,"v":6.16},{"p":66,"t":-63,"v":5.6},{"p":66,"t":-60,"v":5.1},{"p":66,"t":-55,"v":4.6},{"p":66,"t":-50,"v":4.2},{"p":66,"t":-45,"v":3.7},{"p":66,"t":-40.6,"v":3.27},{"p":66,"t":-35,"v":2.8},{"p":66,"t":-31,"v":2.45},{"p":66,"t":-24,"v":2.14},{"p":66,"t":-18,"v":2.07},{"p":66,"t":-11.8,"v":2.04},{"p":66,"t":-5,"v":1.9},{"p":66,"t":0,"v":1.73},{"p":66,"t":7,"v":1.73},{"p":66,"t":12,"v":1.8},{"p":66,"t":17,"v":2.04},{"p":66,"t":23,"v":2.4},{"p":66,"t":29,"v":2.76},{"p":66,"t":35,"v":3.2},{"p":66,"t":41,"v":3.7},{"p":66,"t":46,"v":4.2},{"p":66,"t":50.6,"v":4.7},{"p":66,"t":55,"v":5.1},{"p":66,"t":58,"v":5.3},{"p":66,"t":61.4,"v":5.4},{"p":66,"t":64,"v":5.3},{"p":66,"t":67.5,"v":5},{"p":66,"t":70,"v":4.85},{"p":66,"t":72.3,"v":4.8},{"p":66,"t":75,"v":5.1},{"p":66,"t":77,"v":5.6},{"p":66,"t":80,"v":6.3},{"p":66,"t":84,"v":7.2},{"p":66,"t":88,"v":8},{"p":66,"t":91.6,"v":8.7},{"p":66,"t":94,"v":9.4},{"p":66,"t":96.4,"v":10.3},{"p":66,"t":100,"v":13},{"p":66,"t":104,"v":13},{"p":66,"t":107,"v":10.3},{"p":66,"t":109,"v":8.5},{"p":66,"t":111,"v":7.6},{"p":66,"t":113,"v":8.5},{"p":66,"t":115,"v":9.7},{"p":66,"t":118,"v":10.5},{"p":66,"t":125,"v":14},{"p":66,"t":136,"v":14},{"p":66,"t":139,"v":10.3},{"p":66,"t":141,"v":7.6},{"p":66,"t":143,"v":10.3},{"p":66,"t":146,"v":14},{"p":66,"t":180,"v":25},
{"p":90,"t":-180,"v":25},{"p":90,"t":-146,"v":14},{"p":90,"t":-143,"v":10.3},{"p":90,"t":-141.6,"v":9.5},{"p":90,"t":-138,"v":6.5},{"p":90,"t":-135,"v":4.3},{"p":90,"t":-132,"v":2.66},{"p":90,"t":-129.6,"v":2.25},{"p":90,"t":-126,"v":3},{"p":90,"t":-122,"v":4.1},{"p":90,"t":-117,"v":5.5},{"p":90,"t":-112.7,"v":6.7},{"p":90,"t":-108,"v":7.7},{"p":90,"t":-105.5,"v":8.1},{"p":90,"t":-103,"v":8.27},{"p":90,"t":-100.7,"v":7.9},{"p":90,"t":-98,"v":6.8},{"p":90,"t":-96,"v":5.6},{"p":90,"t":-92,"v":4.3},{"p":90,"t":-88.7,"v":3.6},{"p":90,"t":-86,"v":3},{"p":90,"t":-84,"v":2.55},{"p":90,"t":-81.5,"v":2.4},{"p":90,"t":-78,"v":2.6},{"p":90,"t":-74,"v":2.76},{"p":90,"t":-70,"v":2.8},{"p":90,"t":-66,"v":2.7},{"p":90,"t":-62,"v":2.45},{"p":90,"t":-57,"v":2.1},{"p":90,"t":-52.6,"v":1.73},{"p":90,"t":-49,"v":1.45},{"p":90,"t":-45.4,"v":1.2},{"p":90,"t":-40,"v":1.3},{"p":90,"t":-35.8,"v":1.42},{"p":90,"t":-30,"v":1.6},{"p":90,"t":-26,"v":1.73},{"p":90,"t":-18,"v":1.78},{"p":90,"t":-11.8,"v":1.78},{"p":90,"t":0,"v":1.76},{"p":90,"t":7,"v":1.73},{"p":90,"t":12,"v":1.68},{"p":90,"t":17,"v":1.63},{"p":90,"t":25,"v":1.45},{"p":90,"t":33,"v":1.3},{"p":90,"t":41,"v":1.16},{"p":90,"t":45.8,"v":1.11},{"p":90,"t":50,"v":1.15},{"p":90,"t":53,"v":1.2},{"p":90,"t":56,"v":1.15},{"p":90,"t":60,"v":1.1},{"p":90,"t":64,"v":1},{"p":90,"t":67.5,"v":1.42},{"p":90,"t":71,"v":2.2},{"p":90,"t":74.7,"v":3.07},{"p":90,"t":78,"v":3.7},{"p":90,"t":82,"v":4.3},{"p":90,"t":86,"v":4.7},{"p":90,"t":89,"v":5.1},{"p":90,"t":92,"v":5.8},{"p":90,"t":94,"v":6.67},{"p":90,"t":96.4,"v":8.2},{"p":90,"t":98,"v":9.5},{"p":90,"t":99,"v":10.3},{"p":90,"t":102,"v":14},{"p":90,"t":140,"v":14},{"p":90,"t":148,"v":10.3},{"p":90,"t":152,"v":6},{"p":90,"t":154,"v":3},{"p":90,"t":156,"v":6},{"p":90,"t":158,"v":10.3},{"p":90,"t":161,"v":14},{"p":90,"t":180,"v":25},
{"p":111,"t":-180,"v":25},{"p":111,"t":-150,"v":16},{"p":111,"t":-146.4,"v":10.3},{"p":111,"t":-144,"v":7.8},{"p":111,"t":-141.6,"v":5.1},{"p":111,"t":-139,"v":3.4},{"p":111,"t":-136.8,"v":2.04},{"p":111,"t":-134,"v":1.5},{"p":111,"t":-132,"v":1.27},{"p":111,"t":-129.6,"v":1.4},{"p":111,"t":-127,"v":1.73},{"p":111,"t":-124,"v":2.5},{"p":111,"t":-120,"v":3.58},{"p":111,"t":-116,"v":4.9},{"p":111,"t":-112.7,"v":6.16},{"p":111,"t":-109,"v":7.2},{"p":111,"t":-105.5,"v":8},{"p":111,"t":-102,"v":8.7},{"p":111,"t":-99.5,"v":8.7},{"p":111,"t":-98,"v":8.2},{"p":111,"t":-96,"v":7.2},{"p":111,"t":-93.5,"v":6.2},{"p":111,"t":-91,"v":5.3},{"p":111,"t":-87.5,"v":4.6},{"p":111,"t":-84,"v":4.1},{"p":111,"t":-80,"v":3.7},{"p":111,"t":-76.7,"v":3.38},{"p":111,"t":-73,"v":3.1},{"p":111,"t":-69.5,"v":2.86},{"p":111,"t":-65,"v":2.5},{"p":111,"t":-60,"v":2.04},{"p":111,"t":-55,"v":1.55},{"p":111,"t":-50,"v":1.1},{"p":111,"t":-46,"v":0.7},{"p":111,"t":-43.5,"v":0.4},{"p":111,"t":-41.8,"v":0.24},{"p":111,"t":-39,"v":0.3},{"p":111,"t":-35.8,"v":0.49},{"p":111,"t":-30,"v":0.9},{"p":111,"t":-23.8,"v":1.32},{"p":111,"t":-18,"v":1.5},{"p":111,"t":-11.8,"v":1.63},{"p":111,"t":-5,"v":1.72},{"p":111,"t":0,"v":1.76},{"p":111,"t":7,"v":1.7},{"p":111,"t":12,"v":1.55},{"p":111,"t":17,"v":1.42},{"p":111,"t":21.7,"v":1.32},{"p":111,"t":25,"v":1.15},{"p":111,"t":29,"v":1},{"p":111,"t":33,"v":0.88},{"p":111,"t":36,"v":0.8},{"p":111,"t":38.5,"v":0.85},{"p":111,"t":41,"v":1},{"p":111,"t":44.5,"v":1.5},{"p":111,"t":48,"v":2.04},{"p":111,"t":53,"v":2.8},{"p":111,"t":58,"v":3.58},{"p":111,"t":61.5,"v":4.6},{"p":111,"t":65,"v":5.6},{"p":111,"t":68.5,"v":6.6},{"p":111,"t":72.3,"v":7.4},{"p":111,"t":77,"v":8.1},{"p":111,"t":82,"v":8.7},{"p":111,"t":86,"v":9.4},{"p":111,"t":89,"v":10.3},{"p":111,"t":92,"v":13},{"p":111,"t":100,"v":18},{"p":111,"t":135,"v":18},{"p":111,"t":143.5,"v":10.3},{"p":111,"t":145.5,"v":5},{"p":111,"t":147,"v":1.73},{"p":111,"t":149,"v":5},{"p":111,"t":151,"v":10.3},{"p":111,"t":154,"v":14},{"p":111,"t":180,"v":25},
{"p":135,"t":-180,"v":25},{"p":135,"t":-153,"v":15},{"p":135,"t":-149,"v":10.3},{"p":135,"t":-146.5,"v":8},{"p":135,"t":-144,"v":6.16},{"p":135,"t":-141.5,"v":4.8},{"p":135,"t":-139,"v":3.58},{"p":135,"t":-137,"v":2.7},{"p":135,"t":-135.6,"v":2.04},{"p":135,"t":-133,"v":2},{"p":135,"t":-131.3,"v":2.5},{"p":135,"t":-129.6,"v":3.07},{"p":135,"t":-126,"v":4.3},{"p":135,"t":-122,"v":5.6},{"p":135,"t":-118.5,"v":6.7},{"p":135,"t":-115,"v":7.7},{"p":135,"t":-111,"v":8.5},{"p":135,"t":-108,"v":8.9},{"p":135,"t":-105.5,"v":9.04},{"p":135,"t":-103,"v":8.7},{"p":135,"t":-100.7,"v":8.2},{"p":135,"t":-98,"v":7.7},{"p":135,"t":-96,"v":7.2},{"p":135,"t":-92,"v":6.5},{"p":135,"t":-88.7,"v":5.85},{"p":135,"t":-86,"v":5.4},{"p":135,"t":-84,"v":5.1},{"p":135,"t":-80,"v":4.9},{"p":135,"t":-76.7,"v":4.8},{"p":135,"t":-73,"v":4.5},{"p":135,"t":-69.5,"v":4.1},{"p":135,"t":-66,"v":3.6},{"p":135,"t":-62,"v":3.07},{"p":135,"t":-57,"v":2.5},{"p":135,"t":-52.6,"v":2.04},{"p":135,"t":-48,"v":1.55},{"p":135,"t":-43,"v":1.1},{"p":135,"t":-38,"v":0.85},{"p":135,"t":-33.4,"v":0.7},{"p":135,"t":-28,"v":0.85},{"p":135,"t":-23.8,"v":1.1},{"p":135,"t":-18,"v":1.35},{"p":135,"t":-11.8,"v":1.58},{"p":135,"t":-5,"v":1.7},{"p":135,"t":0,"v":1.76},{"p":135,"t":7,"v":1.7},{"p":135,"t":12,"v":1.55},{"p":135,"t":17,"v":1.42},{"p":135,"t":22,"v":1.3},{"p":135,"t":26.5,"v":1.2},{"p":135,"t":31,"v":1.3},{"p":135,"t":36,"v":1.6},{"p":135,"t":41,"v":2.04},{"p":135,"t":47,"v":3},{"p":135,"t":53,"v":4.1},{"p":135,"t":59,"v":5.4},{"p":135,"t":65,"v":6.67},{"p":135,"t":69,"v":7.7},{"p":135,"t":72.3,"v":8.6},{"p":135,"t":75.5,"v":9.5},{"p":135,"t":78,"v":10.3},{"p":135,"t":81,"v":13},{"p":135,"t":100,"v":16},{"p":135,"t":110,"v":11},{"p":135,"t":113,"v":10.3},{"p":135,"t":115.7,"v":9.9},{"p":135,"t":118,"v":10.3},{"p":135,"t":121,"v":12},{"p":135,"t":135,"v":14},{"p":135,"t":142,"v":10.3},{"p":135,"t":145,"v":6},{"p":135,"t":147,"v":3},{"p":135,"t":149,"v":6},{"p":135,"t":151,"v":10.3},{"p":135,"t":155,"v":14},{"p":135,"t":180,"v":25},
{"p":156,"t":-180,"v":25},{"p":156,"t":-148,"v":15},{"p":156,"t":-145,"v":10.3},{"p":156,"t":-143.5,"v":9},{"p":156,"t":-141.6,"v":8.2},{"p":156,"t":-139.5,"v":7.3},{"p":156,"t":-138,"v":6.8},{"p":156,"t":-136,"v":7.2},{"p":156,"t":-134,"v":7.7},{"p":156,"t":-132.5,"v":9},{"p":156,"t":-131,"v":10.3},{"p":156,"t":-128,"v":15},{"p":156,"t":-105,"v":15},{"p":156,"t":-102,"v":10.3},{"p":156,"t":-100,"v":9},{"p":156,"t":-98,"v":7.7},{"p":156,"t":-96,"v":5.6},{"p":156,"t":-93.5,"v":4.9},{"p":156,"t":-91,"v":4.5},{"p":156,"t":-88,"v":4.1},{"p":156,"t":-84,"v":3.7},{"p":156,"t":-79,"v":3.4},{"p":156,"t":-74,"v":3.2},{"p":156,"t":-69,"v":2.95},{"p":156,"t":-64.7,"v":2.66},{"p":156,"t":-60,"v":2.35},{"p":156,"t":-55,"v":2.04},{"p":156,"t":-50,"v":1.7},{"p":156,"t":-45.4,"v":1.42},{"p":156,"t":-40,"v":1.25},{"p":156,"t":-35.8,"v":1.16},{"p":156,"t":-30,"v":1.17},{"p":156,"t":-26,"v":1.22},{"p":156,"t":-21,"v":1.35},{"p":156,"t":-16.6,"v":1.52},{"p":156,"t":-10,"v":1.68},{"p":156,"t":-5,"v":1.75},{"p":156,"t":0,"v":1.78},{"p":156,"t":7,"v":1.8},{"p":156,"t":12,"v":1.75},{"p":156,"t":17,"v":1.68},{"p":156,"t":21.7,"v":1.63},{"p":156,"t":28,"v":1.5},{"p":156,"t":33.7,"v":1.42},{"p":156,"t":37,"v":1.55},{"p":156,"t":41,"v":1.83},{"p":156,"t":46,"v":2.5},{"p":156,"t":50.6,"v":3.07},{"p":156,"t":54,"v":3.6},{"p":156,"t":58,"v":4.1},{"p":156,"t":61.5,"v":4.5},{"p":156,"t":65,"v":4.9},{"p":156,"t":68.5,"v":5.4},{"p":156,"t":72.3,"v":5.95},{"p":156,"t":76,"v":6.5},{"p":156,"t":79.5,"v":7},{"p":156,"t":82,"v":7.3},{"p":156,"t":84,"v":7.4},{"p":156,"t":89,"v":7.42},{"p":156,"t":94,"v":7.45},{"p":156,"t":96,"v":7.7},{"p":156,"t":99,"v":8.2},{"p":156,"t":101,"v":9},{"p":156,"t":103.6,"v":10.3},{"p":156,"t":107,"v":15},{"p":156,"t":128,"v":15},{"p":156,"t":132.5,"v":10.3},{"p":156,"t":135,"v":8},{"p":156,"t":137,"v":6.16},{"p":156,"t":139,"v":7},{"p":156,"t":141,"v":9},{"p":156,"t":143,"v":10.5},{"p":156,"t":146,"v":14},{"p":156,"t":149,"v":11},{"p":156,"t":150.6,"v":9.25},{"p":156,"t":152,"v":10.5},{"p":156,"t":155,"v":15},{"p":156,"t":180,"v":25}
],
"br": [
{"p":0,"t":-180,"v":25},{"p":0,"t":-140,"v":15},{"p":0,"t":-137,"v":10.3},{"p":0,"t":-135.5,"v":8.5},{"p":0,"t":-134.5,"v":7.8},{"p":0,"t":-132,"v":8.3},{"p":0,"t":-130,"v":9},{"p":0,"t":-128,"v":9.8},{"p":0,"t":-126.7,"v":10.3},{"p":0,"t":-124,"v":14},{"p":0,"t":-115,"v":14},{"p":0,"t":-112,"v":10.3},{"p":0,"t":-110,"v":9.55},{"p":0,"t":-108,"v":10.3},{"p":0,"t":-105,"v":14},{"p":0,"t":-95,"v":14},{"p":0,"t":-89.5,"v":10.3},{"p":0,"t":-87,"v":8.7},{"p":0,"t":-84.7,"v":7.2},{"p":0,"t":-81.5,"v":6},{"p":0,"t":-78.7,"v":5.1},{"p":0,"t":-75,"v":4.6},{"p":0,"t":-71.5,"v":4.1},{"p":0,"t":-68,"v":3.6},{"p":0,"t":-64,"v":3.07},{"p":0,"t":-60,"v":2.65},{"p":0,"t":-57,"v":2.35},{"p":0,"t":-53,"v":2.15},{"p":0,"t":-50,"v":2.04},{"p":0,"t":-46,"v":2},{"p":0,"t":-42.7,"v":2},{"p":0,"t":-39,"v":2},{"p":0,"t":-35.5,"v":2.04},{"p":0,"t":-30,"v":2.07},{"p":0,"t":-26,"v":2.1},{"p":0,"t":-20,"v":2.12},{"p":0,"t":-14,"v":2.14},{"p":0,"t":-7,"v":2.2},{"p":0,"t":0,"v":2.25},{"p":0,"t":5,"v":2.45},{"p":0,"t":9,"v":2.6},{"p":0,"t":12,"v":2.55},{"p":0,"t":16,"v":2.45},{"p":0,"t":19,"v":2.35},{"p":0,"t":23,"v":2.25},{"p":0,"t":27,"v":2.17},{"p":0,"t":31.7,"v":2.14},{"p":0,"t":35,"v":2.22},{"p":0,"t":37.7,"v":2.35},{"p":0,"t":42,"v":2.65},{"p":0,"t":47,"v":3.07},{"p":0,"t":50,"v":3.25},{"p":0,"t":54.5,"v":3.38},{"p":0,"t":59,"v":3.5},{"p":0,"t":64,"v":3.58},{"p":0,"t":67,"v":3.7},{"p":0,"t":69,"v":3.9},{"p":0,"t":71.5,"v":4.2},{"p":0,"t":73.7,"v":4.6},{"p":0,"t":76,"v":5.3},{"p":0,"t":78.5,"v":6.16},{"p":0,"t":80.5,"v":7.5},{"p":0,"t":82,"v":8.7},{"p":0,"t":83,"v":10.3},{"p":0,"t":86,"v":15},{"p":0,"t":100,"v":16},{"p":0,"t":107,"v":10.3},{"p":0,"t":109,"v":9.2},{"p":0,"t":111,"v":8.2},{"p":0,"t":113,"v":7.3},{"p":0,"t":114.5,"v":6.67},{"p":0,"t":115.8,"v":6.2},{"p":0,"t":117,"v":6},{"p":0,"t":118.5,"v":6.2},{"p":0,"t":120,"v":6.4},{"p":0,"t":121.7,"v":6.67},{"p":0,"t":125,"v":7},{"p":0,"t":129,"v":7.4},{"p":0,"t":133.7,"v":7.7},{"p":0,"t":136,"v":8},{"p":0,"t":138.5,"v":8.4},{"p":0,"t":140,"v":9.5},{"p":0,"t":141,"v":10.3},{"p":0,"t":143,"v":15},{"p":0,"t":180,"v":25},
{"p":21,"t":-180,"v":25},{"p":21,"t":-172,"v":13},{"p":21,"t":-170,"v":10.3},{"p":21,"t":-168,"v":8.5},{"p":21,"t":-166.5,"v":7},{"p":21,"t":-165,"v":5.95},{"p":21,"t":-162.7,"v":5.75},{"p":21,"t":-160,"v":6.16},{"p":21,"t":-158,"v":6.7},{"p":21,"t":-156.7,"v":7.2},{"p":21,"t":-153,"v":7.8},{"p":21,"t":-150.7,"v":7.5},{"p":21,"t":-149,"v":6.5},{"p":21,"t":-147,"v":5.1},{"p":21,"t":-145,"v":4.7},{"p":21,"t":-142,"v":4.4},{"p":21,"t":-140,"v":4.9},{"p":21,"t":-138.5,"v":6.5},{"p":21,"t":-137,"v":8.3},{"p":21,"t":-135,"v":9.8},{"p":21,"t":-134,"v":10.3},{"p":21,"t":-131,"v":14},{"p":21,"t":-80,"v":14},{"p":21,"t":-76,"v":10.3},{"p":21,"t":-73.5,"v":9.6},{"p":21,"t":-71.5,"v":9.25},{"p":21,"t":-67,"v":8.3},{"p":21,"t":-62,"v":7.5},{"p":21,"t":-58,"v":6.9},{"p":21,"t":-54.7,"v":6.36},{"p":21,"t":-51,"v":5.7},{"p":21,"t":-47.5,"v":5.1},{"p":21,"t":-44,"v":4.5},{"p":21,"t":-40.3,"v":3.9},{"p":21,"t":-36.5,"v":3.4},{"p":21,"t":-33,"v":3.07},{"p":21,"t":-29.5,"v":2.9},{"p":21,"t":-26,"v":2.76},{"p":21,"t":-20,"v":2.6},{"p":21,"t":-14,"v":2.45},{"p":21,"t":-7,"v":2.37},{"p":21,"t":0,"v":2.3},{"p":21,"t":5,"v":2.35},{"p":21,"t":10,"v":2.5},{"p":21,"t":16,"v":2.76},{"p":21,"t":23,"v":2.86},{"p":21,"t":30.5,"v":3.07},{"p":21,"t":34,"v":3.3},{"p":21,"t":37.7,"v":3.7},{"p":21,"t":41,"v":4.2},{"p":21,"t":45,"v":4.9},{"p":21,"t":48.5,"v":5.5},{"p":21,"t":52,"v":6.16},{"p":21,"t":55.5,"v":6.8},{"p":21,"t":59,"v":7.5},{"p":21,"t":63,"v":8.1},{"p":21,"t":66.5,"v":8.7},{"p":21,"t":69.5,"v":9.4},{"p":21,"t":72.5,"v":10.3},{"p":21,"t":76,"v":14},{"p":21,"t":140,"v":14},{"p":21,"t":152,"v":10.3},{"p":21,"t":153,"v":7},{"p":21,"t":154,"v":4.66},{"p":21,"t":156,"v":5.2},{"p":21,"t":158,"v":7},{"p":21,"t":161,"v":9},{"p":21,"t":163.7,"v":10.3},{"p":21,"t":166,"v":14},{"p":21,"t":180,"v":25},
{"p":45,"t":-180,"v":25},{"p":45,"t":-174,"v":14},{"p":45,"t":-171,"v":10.3},{"p":45,"t":-168.5,"v":7.5},{"p":45,"t":-166,"v":5.6},{"p":45,"t":-165,"v":4.1},{"p":45,"t":-163.5,"v":3.6},{"p":45,"t":-162,"v":3.27},{"p":45,"t":-160.5,"v":3.6},{"p":45,"t":-159,"v":4.1},{"p":45,"t":-157,"v":4.8},{"p":45,"t":-155.5,"v":5.3},{"p":45,"t":-153,"v":6},{"p":45,"t":-150.7,"v":6},{"p":45,"t":-149,"v":7.5},{"p":45,"t":-147.5,"v":9},{"p":45,"t":-146,"v":10.3},{"p":45,"t":-143,"v":15},{"p":45,"t":-80,"v":15},{"p":45,"t":-75,"v":10.3},{"p":45,"t":-72,"v":9.6},{"p":45,"t":-69,"v":9.2},{"p":45,"t":-66.7,"v":8.7},{"p":45,"t":-62,"v":8},{"p":45,"t":-57,"v":7.2},{"p":45,"t":-53,"v":6.4},{"p":45,"t":-50,"v":5.6},{"p":45,"t":-46,"v":5},{"p":45,"t":-42.7,"v":4.5},{"p":45,"t":-39,"v":4.1},{"p":45,"t":-35.5,"v":3.7},{"p":45,"t":-31,"v":3.3},{"p":45,"t":-26,"v":3.07},{"p":45,"t":-21,"v":2.8},{"p":45,"t":-16.3,"v":2.55},{"p":45,"t":-11,"v":2.4},{"p":45,"t":-6.7,"v":2.3},{"p":45,"t":0,"v":2.27},{"p":45,"t":5,"v":2.4},{"p":45,"t":10,"v":2.55},{"p":45,"t":16,"v":2.7},{"p":45,"t":20,"v":2.85},{"p":45,"t":25.7,"v":3.07},{"p":45,"t":30,"v":3.3},{"p":45,"t":33,"v":3.48},{"p":45,"t":36.5,"v":3.9},{"p":45,"t":40,"v":4.5},{"p":45,"t":43,"v":5.3},{"p":45,"t":46,"v":6.16},{"p":45,"t":49,"v":7.2},{"p":45,"t":52,"v":8.2},{"p":45,"t":55,"v":9.2},{"p":45,"t":58,"v":10.3},{"p":45,"t":62,"v":14},{"p":45,"t":138,"v":14},{"p":45,"t":142,"v":10.3},{"p":45,"t":144,"v":6},{"p":45,"t":146,"v":3},{"p":45,"t":148,"v":6},{"p":45,"t":150,"v":10.3},{"p":45,"t":153,"v":14},{"p":45,"t":180,"v":25},
{"p":66,"t":-180,"v":25},{"p":66,"t":-175,"v":14},{"p":66,"t":-172,"v":10.3},{"p":66,"t":-170,"v":9},{"p":66,"t":-167.5,"v":7.2},{"p":66,"t":-165.5,"v":6},{"p":66,"t":-164,"v":5.1},{"p":66,"t":-161.5,"v":4.7},{"p":66,"t":-160,"v":5.2},{"p":66,"t":-158,"v":5.95},{"p":66,"t":-156,"v":6.8},{"p":66,"t":-154,"v":7.7},{"p":66,"t":-152,"v":9},{"p":66,"t":-150.7,"v":10.3},{"p":66,"t":-148,"v":14},{"p":66,"t":-85,"v":14},{"p":66,"t":-81,"v":10.3},{"p":66,"t":-78.5,"v":9.7},{"p":66,"t":-76,"v":9.25},{"p":66,"t":-71.5,"v":8.2},{"p":66,"t":-67,"v":7.5},{"p":66,"t":-62,"v":6.9},{"p":66,"t":-58,"v":6.4},{"p":66,"t":-54.7,"v":5.95},{"p":66,"t":-51,"v":5.4},{"p":66,"t":-47.5,"v":4.9},{"p":66,"t":-43,"v":4.4},{"p":66,"t":-38,"v":3.9},{"p":66,"t":-33,"v":3.5},{"p":66,"t":-28.3,"v":3.17},{"p":66,"t":-22,"v":2.8},{"p":66,"t":-16.3,"v":2.55},{"p":66,"t":-11,"v":2.4},{"p":66,"t":-6,"v":2.32},{"p":66,"t":0,"v":2.27},{"p":66,"t":5,"v":2.3},{"p":66,"t":10,"v":2.35},{"p":66,"t":18.5,"v":2.4},{"p":66,"t":23,"v":2.5},{"p":66,"t":28,"v":2.66},{"p":66,"t":35,"v":2.97},{"p":66,"t":39,"v":3.4},{"p":66,"t":42.5,"v":3.9},{"p":66,"t":46,"v":4.6},{"p":66,"t":50,"v":5.3},{"p":66,"t":53,"v":6},{"p":66,"t":56.6,"v":6.9},{"p":66,"t":60,"v":7.8},{"p":66,"t":64,"v":8.7},{"p":66,"t":66.5,"v":9.3},{"p":66,"t":69,"v":9.66},{"p":66,"t":72,"v":9.8},{"p":66,"t":76,"v":9.87},{"p":66,"t":79,"v":9.95},{"p":66,"t":82,"v":10.3},{"p":66,"t":85,"v":14},{"p":66,"t":180,"v":25},
{"p":90,"t":-180,"v":25},{"p":90,"t":-168,"v":13},{"p":90,"t":-166,"v":10.3},{"p":90,"t":-165,"v":9.25},{"p":90,"t":-164,"v":10.3},{"p":90,"t":-162,"v":13},{"p":90,"t":-147,"v":14},{"p":90,"t":-143.5,"v":10.3},{"p":90,"t":-142,"v":6},{"p":90,"t":-141,"v":2.5},{"p":90,"t":-140,"v":5},{"p":90,"t":-139,"v":10.3},{"p":90,"t":-137,"v":14},{"p":90,"t":-95,"v":15},{"p":90,"t":-91,"v":10.3},{"p":90,"t":-88.5,"v":9},{"p":90,"t":-86,"v":7.7},{"p":90,"t":-83.5,"v":6.5},{"p":90,"t":-81,"v":5.6},{"p":90,"t":-78.5,"v":4.9},{"p":90,"t":-76,"v":4.4},{"p":90,"t":-72.5,"v":3.9},{"p":90,"t":-69,"v":3.6},{"p":90,"t":-65.5,"v":3.2},{"p":90,"t":-62,"v":2.86},{"p":90,"t":-58,"v":2.6},{"p":90,"t":-54.7,"v":2.35},{"p":90,"t":-50,"v":2.35},{"p":90,"t":-46,"v":2.42},{"p":90,"t":-42.7,"v":2.5},{"p":90,"t":-39,"v":2.53},{"p":90,"t":-35.5,"v":2.55},{"p":90,"t":-31,"v":2.53},{"p":90,"t":-26,"v":2.5},{"p":90,"t":-20,"v":2.42},{"p":90,"t":-14,"v":2.35},{"p":90,"t":-7,"v":2.32},{"p":90,"t":0,"v":2.3},{"p":90,"t":5,"v":2.28},{"p":90,"t":10,"v":2.22},{"p":90,"t":18.5,"v":2.1},{"p":90,"t":28,"v":1.94},{"p":90,"t":33,"v":1.88},{"p":90,"t":37.7,"v":1.85},{"p":90,"t":42.5,"v":1.88},{"p":90,"t":46,"v":2},{"p":90,"t":50,"v":2.25},{"p":90,"t":53.5,"v":2.5},{"p":90,"t":56.9,"v":2.76},{"p":90,"t":60,"v":2.9},{"p":90,"t":64,"v":3.07},{"p":90,"t":68,"v":3.3},{"p":90,"t":71.3,"v":3.48},{"p":90,"t":74,"v":3.75},{"p":90,"t":76,"v":4.1},{"p":90,"t":78.5,"v":4.8},{"p":90,"t":80.9,"v":5.64},{"p":90,"t":83.5,"v":6.7},{"p":90,"t":85.7,"v":7.7},{"p":90,"t":88,"v":8.9},{"p":90,"t":90.5,"v":10.3},{"p":90,"t":93,"v":14},{"p":90,"t":110,"v":15},{"p":90,"t":114.5,"v":10.3},{"p":90,"t":118,"v":7.5},{"p":90,"t":121,"v":5.5},{"p":90,"t":123,"v":4.2},{"p":90,"t":125,"v":3.07},{"p":90,"t":127.7,"v":2.97},{"p":90,"t":129,"v":4.5},{"p":90,"t":131,"v":7.5},{"p":90,"t":133.7,"v":10.3},{"p":90,"t":136,"v":14},{"p":90,"t":180,"v":25},
{"p":111,"t":-180,"v":25},{"p":111,"t":-158,"v":14},{"p":111,"t":-152,"v":10.3},{"p":111,"t":-148,"v":7},{"p":111,"t":-146,"v":5.1},{"p":111,"t":-144.5,"v":3.5},{"p":111,"t":-143.5,"v":2.66},{"p":111,"t":-142,"v":4},{"p":111,"t":-140,"v":6.5},{"p":111,"t":-138,"v":9},{"p":111,"t":-136.5,"v":10.3},{"p":111,"t":-134,"v":14},{"p":111,"t":-92,"v":14},{"p":111,"t":-88,"v":10.3},{"p":111,"t":-86,"v":8.7},{"p":111,"t":-83.5,"v":7.2},{"p":111,"t":-81,"v":6.2},{"p":111,"t":-78.7,"v":5.3},{"p":111,"t":-75,"v":4.7},{"p":111,"t":-71.5,"v":4.1},{"p":111,"t":-68,"v":3.65},{"p":111,"t":-64,"v":3.27},{"p":111,"t":-60,"v":2.8},{"p":111,"t":-57,"v":2.35},{"p":111,"t":-53.5,"v":1.7},{"p":111,"t":-50,"v":1},{"p":111,"t":-48,"v":0.8},{"p":111,"t":-46.3,"v":0.65},{"p":111,"t":-44,"v":0.75},{"p":111,"t":-40.3,"v":1.2},{"p":111,"t":-35.5,"v":1.6},{"p":111,"t":-30.7,"v":1.93},{"p":111,"t":-25,"v":2.15},{"p":111,"t":-18.7,"v":2.35},{"p":111,"t":-14,"v":2.38},{"p":111,"t":-9,"v":2.4},{"p":111,"t":-4,"v":2.38},{"p":111,"t":0,"v":2.3},{"p":111,"t":5,"v":2.1},{"p":111,"t":10,"v":1.95},{"p":111,"t":14,"v":1.8},{"p":111,"t":18.5,"v":1.63},{"p":111,"t":23,"v":1.42},{"p":111,"t":28,"v":1.22},{"p":111,"t":32,"v":1.05},{"p":111,"t":35,"v":0.9},{"p":111,"t":38,"v":0.6},{"p":111,"t":41.3,"v":0.29},{"p":111,"t":43.5,"v":0.7},{"p":111,"t":46,"v":1.22},{"p":111,"t":49,"v":1.8},{"p":111,"t":52,"v":2.45},{"p":111,"t":55.5,"v":3},{"p":111,"t":59,"v":3.58},{"p":111,"t":61.5,"v":4.3},{"p":111,"t":64,"v":5.1},{"p":111,"t":66.5,"v":6.1},{"p":111,"t":69,"v":7.2},{"p":111,"t":71,"v":8},{"p":111,"t":72.5,"v":8.7},{"p":111,"t":74.5,"v":9.6},{"p":111,"t":76,"v":10.3},{"p":111,"t":79,"v":14},{"p":111,"t":140,"v":14},{"p":111,"t":144,"v":10.3},{"p":111,"t":146,"v":9.5},{"p":111,"t":148,"v":9.25},{"p":111,"t":149,"v":9.3},{"p":111,"t":151,"v":9},{"p":111,"t":153,"v":9.5},{"p":111,"t":155,"v":10.3},{"p":111,"t":158,"v":14},{"p":111,"t":180,"v":25},
{"p":135,"t":-180,"v":25},{"p":135,"t":-156,"v":14},{"p":135,"t":-152,"v":10.3},{"p":135,"t":-149.5,"v":7.5},{"p":135,"t":-147,"v":5},{"p":135,"t":-145.5,"v":3.4},{"p":135,"t":-144,"v":2.35},{"p":135,"t":-142.5,"v":3.6},{"p":135,"t":-141,"v":5},{"p":135,"t":-139,"v":6.8},{"p":135,"t":-137,"v":8.8},{"p":135,"t":-135,"v":10.3},{"p":135,"t":-132,"v":14},{"p":135,"t":-90,"v":14},{"p":135,"t":-86,"v":10.3},{"p":135,"t":-84,"v":8.3},{"p":135,"t":-82.5,"v":7.2},{"p":135,"t":-81,"v":6.16},{"p":135,"t":-78.5,"v":5.4},{"p":135,"t":-76,"v":4.8},{"p":135,"t":-72.5,"v":4.3},{"p":135,"t":-69,"v":3.9},{"p":135,"t":-65.5,"v":3.5},{"p":135,"t":-62,"v":3.07},{"p":135,"t":-58,"v":2.65},{"p":135,"t":-54.7,"v":2.25},{"p":135,"t":-51,"v":1.8},{"p":135,"t":-47.5,"v":1.32},{"p":135,"t":-44.5,"v":0.85},{"p":135,"t":-41.5,"v":0.4},{"p":135,"t":-39,"v":0.15},{"p":135,"t":-36,"v":0.45},{"p":135,"t":-33,"v":0.8},{"p":135,"t":-28,"v":1.3},{"p":135,"t":-23.5,"v":1.73},{"p":135,"t":-18,"v":2.1},{"p":135,"t":-14,"v":2.35},{"p":135,"t":-9,"v":2.4},{"p":135,"t":-4.3,"v":2.45},{"p":135,"t":0,"v":2.3},{"p":135,"t":5,"v":2.1},{"p":135,"t":10,"v":1.9},{"p":135,"t":14,"v":1.75},{"p":135,"t":18.5,"v":1.6},{"p":135,"t":23,"v":1.42},{"p":135,"t":28,"v":1.22},{"p":135,"t":31,"v":1.1},{"p":135,"t":33.5,"v":0.95},{"p":135,"t":35,"v":0.85},{"p":135,"t":37,"v":1.2},{"p":135,"t":39,"v":1.6},{"p":135,"t":42.5,"v":2.04},{"p":135,"t":46,"v":3.1},{"p":135,"t":50,"v":4.1},{"p":135,"t":53.5,"v":5.1},{"p":135,"t":57,"v":6.16},{"p":135,"t":60.5,"v":7.3},{"p":135,"t":64,"v":8.4},{"p":135,"t":67,"v":9.4},{"p":135,"t":70,"v":10.3},{"p":135,"t":73,"v":14},{"p":135,"t":140,"v":14},{"p":135,"t":145,"v":10.3},{"p":135,"t":146,"v":9.5},{"p":135,"t":147,"v":8.9},{"p":135,"t":148,"v":9.3},{"p":135,"t":149.5,"v":10.3},{"p":135,"t":153,"v":14},{"p":135,"t":180,"v":25},
{"p":156,"t":-180,"v":25},{"p":156,"t":-153,"v":14},{"p":156,"t":-148,"v":10.3},{"p":156,"t":-146,"v":8.2},{"p":156,"t":-144.5,"v":6.8},{"p":156,"t":-143.5,"v":5.95},{"p":156,"t":-142,"v":5.9},{"p":156,"t":-141,"v":6.16},{"p":156,"t":-139,"v":7.7},{"p":156,"t":-137.5,"v":10.3},{"p":156,"t":-135,"v":14},{"p":156,"t":-95,"v":14},{"p":156,"t":-91,"v":10.3},{"p":156,"t":-88.5,"v":8.7},{"p":156,"t":-86,"v":7.2},{"p":156,"t":-83.5,"v":6},{"p":156,"t":-81,"v":4.9},{"p":156,"t":-78.5,"v":4.3},{"p":156,"t":-76,"v":3.9},{"p":156,"t":-71.5,"v":3.07},{"p":156,"t":-68,"v":2.6},{"p":156,"t":-64,"v":2.25},{"p":156,"t":-60.5,"v":1.98},{"p":156,"t":-57,"v":1.73},{"p":156,"t":-53.5,"v":1.45},{"p":156,"t":-50,"v":1.2},{"p":156,"t":-47,"v":0.9},{"p":156,"t":-44,"v":0.65},{"p":156,"t":-40.3,"v":0.65},{"p":156,"t":-36.5,"v":0.9},{"p":156,"t":-33,"v":1.2},{"p":156,"t":-28,"v":1.55},{"p":156,"t":-23.5,"v":1.93},{"p":156,"t":-18,"v":2.2},{"p":156,"t":-14,"v":2.35},{"p":156,"t":-6.7,"v":2.45},{"p":156,"t":0,"v":2.3},{"p":156,"t":5,"v":2.15},{"p":156,"t":10,"v":2},{"p":156,"t":14,"v":1.85},{"p":156,"t":18.5,"v":1.73},{"p":156,"t":23,"v":1.55},{"p":156,"t":28,"v":1.42},{"p":156,"t":33,"v":1.2},{"p":156,"t":37.7,"v":1},{"p":156,"t":40,"v":0.96},{"p":156,"t":42.5,"v":1.1},{"p":156,"t":45,"v":1.42},{"p":156,"t":48.5,"v":2.3},{"p":156,"t":52,"v":3.27},{"p":156,"t":55.5,"v":3.9},{"p":156,"t":59,"v":4.5},{"p":156,"t":62.5,"v":5.2},{"p":156,"t":66.5,"v":5.95},{"p":156,"t":70,"v":6.7},{"p":156,"t":73.7,"v":7.5},{"p":156,"t":76,"v":8.1},{"p":156,"t":78.5,"v":8.7},{"p":156,"t":80.5,"v":9.5},{"p":156,"t":82,"v":10.3},{"p":156,"t":85,"v":14},{"p":156,"t":180,"v":25}
]
},
"concat": [
{"hconcat": [
{"title": "Realized Gain RHCP; Frequency: 2070MHz", "width": 491, "height": 315, "data": {"name": "tl"},
 "mark": {"type": "line", "interpolate": "monotone", "strokeWidth": 2, "clip": true},
 "encoding": {
  "x": {"field": "t", "type": "quantitative", "scale": {"domain": [-180, 180], "nice": false, "zero": false}, "axis": {"values": [-150, -100, -50, 0, 50, 100, 150], "title": "Theta [deg]"}},
  "y": {"field": "v", "type": "quantitative", "scale": {"domain": [-20, 10], "nice": false, "zero": false}, "axis": {"values": [-20, -15, -10, -5, 0, 5, 10], "title": "Realized Gain [dBi]"}},
  "color": {"field": "p", "type": "nominal", "scale": {"domain": [0, 21, 45, 66, 90, 111, 135, 156], "range": ["#ff0000", "#0000ff", "#000000", "#008000", "#bf00bf", "#00bfbf", "#bfbf00", "#ff0000"]}, "legend": {"title": null, "labelExpr": "'phi=' + datum.label"}},
  "strokeDash": {"field": "p", "type": "nominal", "scale": {"domain": [0, 21, 45, 66, 90, 111, 135, 156], "range": [[1, 0], [1, 0], [1, 0], [1, 0], [1, 0], [1, 0], [1, 0], [7, 3.5]]}, "legend": {"title": null, "labelExpr": "'phi=' + datum.label"}}
 }},
{"title": "Realized Gain RHCP; Frequency: 2240MHz", "width": 492, "height": 321, "data": {"name": "tr"},
 "mark": {"type": "line", "interpolate": "monotone", "strokeWidth": 2, "clip": true},
 "encoding": {
  "x": {"field": "t", "type": "quantitative", "scale": {"domain": [-180, 180], "nice": false, "zero": false}, "axis": {"values": [-150, -100, -50, 0, 50, 100, 150], "title": "Theta [deg]"}},
  "y": {"field": "v", "type": "quantitative", "scale": {"domain": [-20, 10], "nice": false, "zero": false}, "axis": {"values": [-20, -15, -10, -5, 0, 5, 10], "title": "Realized Gain [dBi]"}},
  "color": {"field": "p", "type": "nominal", "scale": {"domain": [0, 21, 45, 66, 90, 111, 135, 156], "range": ["#ff0000", "#0000ff", "#000000", "#008000", "#bf00bf", "#00bfbf", "#bfbf00", "#ff0000"]}, "legend": {"title": null, "labelExpr": "'phi=' + datum.label"}},
  "strokeDash": {"field": "p", "type": "nominal", "scale": {"domain": [0, 21, 45, 66, 90, 111, 135, 156], "range": [[1, 0], [1, 0], [1, 0], [1, 0], [1, 0], [1, 0], [1, 0], [7, 3.5]]}, "legend": {"title": null, "labelExpr": "'phi=' + datum.label"}}
 }}
], "spacing": 98,
 "resolve": {"scale": {"color": "independent", "strokeDash": "independent"}, "legend": {"color": "independent", "strokeDash": "independent"}}},
{"hconcat": [
{"title": "Axial Ratio; Frequency: 2070MHz", "width": 493, "height": 324, "data": {"name": "bl"},
 "mark": {"type": "line", "interpolate": "monotone", "strokeWidth": 2, "clip": true},
 "encoding": {
  "x": {"field": "t", "type": "quantitative", "scale": {"domain": [-180, 180], "nice": false, "zero": false}, "axis": {"values": [-150, -100, -50, 0, 50, 100, 150], "title": "Theta [deg]"}},
  "y": {"field": "v", "type": "quantitative", "scale": {"domain": [0, 10], "nice": false}, "axis": {"values": [0, 2, 4, 6, 8, 10], "title": "Axial Ratio [dB]"}},
  "color": {"field": "p", "type": "nominal", "scale": {"domain": [0, 21, 45, 66, 90, 111, 135, 156], "range": ["#ff0000", "#0000ff", "#000000", "#008000", "#bf00bf", "#00bfbf", "#bfbf00", "#ff0000"]}, "legend": {"title": null, "labelExpr": "'phi=' + datum.label"}},
  "strokeDash": {"field": "p", "type": "nominal", "scale": {"domain": [0, 21, 45, 66, 90, 111, 135, 156], "range": [[1, 0], [1, 0], [1, 0], [1, 0], [1, 0], [1, 0], [1, 0], [7, 3.5]]}, "legend": {"title": null, "labelExpr": "'phi=' + datum.label"}}
 }},
{"title": "Axial Ratio; Frequency: 2240MHz", "width": 498, "height": 324, "data": {"name": "br"},
 "mark": {"type": "line", "interpolate": "monotone", "strokeWidth": 2, "clip": true},
 "encoding": {
  "x": {"field": "t", "type": "quantitative", "scale": {"domain": [-180, 180], "nice": false, "zero": false}, "axis": {"values": [-150, -100, -50, 0, 50, 100, 150], "title": "Theta [deg]"}},
  "y": {"field": "v", "type": "quantitative", "scale": {"domain": [0, 10], "nice": false}, "axis": {"values": [0, 2, 4, 6, 8, 10], "title": "Axial Ratio [dB]"}},
  "color": {"field": "p", "type": "nominal", "scale": {"domain": [0, 21, 45, 66, 90, 111, 135, 156], "range": ["#ff0000", "#0000ff", "#000000", "#008000", "#bf00bf", "#00bfbf", "#bfbf00", "#ff0000"]}, "legend": {"title": null, "labelExpr": "'phi=' + datum.label"}},
  "strokeDash": {"field": "p", "type": "nominal", "scale": {"domain": [0, 21, 45, 66, 90, 111, 135, 156], "range": [[1, 0], [1, 0], [1, 0], [1, 0], [1, 0], [1, 0], [1, 0], [7, 3.5]]}, "legend": {"title": null, "labelExpr": "'phi=' + datum.label"}}
 }}
], "spacing": 100,
 "resolve": {"scale": {"color": "independent", "strokeDash": "independent"}, "legend": {"color": "independent", "strokeDash": "independent"}}}
],
"resolve": {"scale": {"color": "independent", "strokeDash": "independent"}, "legend": {"color": "independent", "strokeDash": "independent"}},
"config": {
 "font": "DejaVu Sans",
 "view": {"stroke": "#000000", "strokeWidth": 1},
 "title": {"fontSize": 16, "fontWeight": "normal", "font": "DejaVu Sans", "color": "#000000", "offset": 1, "frame": "group", "anchor": "middle"},
 "axis": {"labelFont": "DejaVu Sans", "titleFont": "DejaVu Sans", "labelFontSize": 13.4, "titleFontSize": 13.4, "titleFontWeight": "normal", "labelColor": "#000000", "titleColor": "#000000", "domainColor": "#000000", "tickColor": "#000000", "tickSize": 5, "labelPadding": 3, "gridColor": "#b0b0b0", "gridWidth": 1, "labelFlush": false, "labelOverlap": false},
 "axisX": {"titlePadding": 6},
 "axisY": {"titlePadding": 8},
 "legend": {"orient": "bottom-right", "offset": 3, "padding": 6, "fillColor": "rgba(255,255,255,0.8)", "strokeColor": "#cccccc", "cornerRadius": 3, "labelFont": "DejaVu Sans", "labelFontSize": 10.7, "labelColor": "#000000", "rowPadding": 1.5, "symbolType": "M-1.5,0H1.5", "symbolSize": 289, "symbolStrokeWidth": 2, "symbolOffset": 4, "labelOffset": 12}
}
}
